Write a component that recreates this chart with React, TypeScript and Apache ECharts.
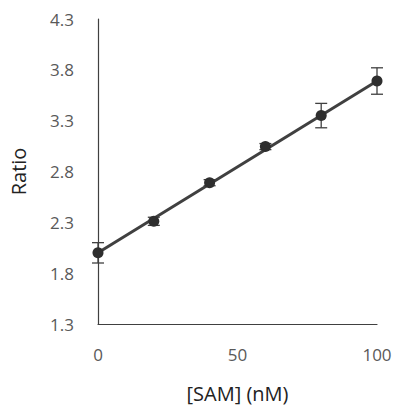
import React, { useEffect, useRef } from "react";
import * as echarts from "echarts";

const samConc = [0, 20, 40, 60, 80, 100];
const ratioMean = [2.0, 2.31, 2.69, 3.045, 3.35, 3.69];
const ratioErr = [0.1, 0.04, 0.03, 0.03, 0.12, 0.13];
// linear trendline endpoints
const trendX = [0, 100];
const trendY = [2.0, 3.69];

const yMin = 1.3;
const yMax = 4.3;
const yStep = 0.5;
const xMin = 0;
const xMax = 100;
const xStep = 50;

export default function App() {
  const ref = useRef<HTMLDivElement>(null);
  useEffect(() => {
    if (!ref.current) return;
    const chart = echarts.init(ref.current, null, { renderer: "svg" });
    const pts = samConc.map((x, i) => [x, ratioMean[i]]);
    const trend = trendX.map((x, i) => [x, trendY[i]]);
    const errData = samConc.map((x, i) => [x, ratioMean[i] - ratioErr[i], ratioMean[i] + ratioErr[i]]);
    const font = "'Open Sans', 'Liberation Sans', sans-serif";
    chart.setOption({
      animation: false,
      backgroundColor: "#ffffff",
      grid: { left: 96, right: 18, top: 19, bottom: 83, containLabel: false },
      xAxis: {
        type: "value",
        min: xMin,
        max: xMax,
        interval: xStep,
        name: "[SAM] (nM)",
        nameLocation: "middle",
        nameGap: 59,
        nameTextStyle: { color: "#222", fontSize: 20, fontFamily: font },
        axisLine: { show: true, lineStyle: { color: "#404040", width: 1.2 } },
        axisTick: { show: false },
        splitLine: { show: false },
        axisLabel: { color: "#595959", fontSize: 17, fontFamily: font, margin: 22 },
      },
      yAxis: {
        type: "value",
        min: yMin,
        max: yMax,
        interval: yStep,
        name: "Ratio",
        nameLocation: "middle",
        nameGap: 70,
        nameTextStyle: { color: "#222", fontSize: 20, fontFamily: font },
        axisLine: { show: true, lineStyle: { color: "#404040", width: 1.2 } },
        axisTick: { show: false },
        splitLine: { show: false },
        axisLabel: {
          color: "#595959",
          fontSize: 17,
          fontFamily: font,
          margin: 24,
          formatter: (v: number) => v.toFixed(1),
        },
      },
      series: [
        {
          type: "line",
          data: trend,
          z: 2,
          symbol: "none",
          lineStyle: { color: "#404040", width: 3 },
        },
        {
          type: "custom",
          data: errData,
          z: 3,
          renderItem: (params: any, api: any) => {
            const x = api.value(0);
            const lo = api.coord([x, api.value(1)]);
            const hi = api.coord([x, api.value(2)]);
            const w = 6;
            const style = { stroke: "#404040", lineWidth: 1.3, fill: "none" };
            return {
              type: "group",
              children: [
                { type: "line", shape: { x1: lo[0], y1: lo[1], x2: hi[0], y2: hi[1] }, style },
                { type: "line", shape: { x1: lo[0] - w, y1: lo[1], x2: lo[0] + w, y2: lo[1] }, style },
                { type: "line", shape: { x1: hi[0] - w, y1: hi[1], x2: hi[0] + w, y2: hi[1] }, style },
              ],
            };
          },
        },
        {
          type: "scatter",
          data: pts,
          z: 4,
          symbol: "circle",
          symbolSize: 11,
          itemStyle: { color: "#2e2e2e", opacity: 1 },
        },
      ],
    });
    return () => chart.dispose();
  }, []);
  return (
    <div
      ref={ref}
      style={{ position: "absolute", left: 0, top: 0, width: 395, height: 408 }}
    />
  );
}
